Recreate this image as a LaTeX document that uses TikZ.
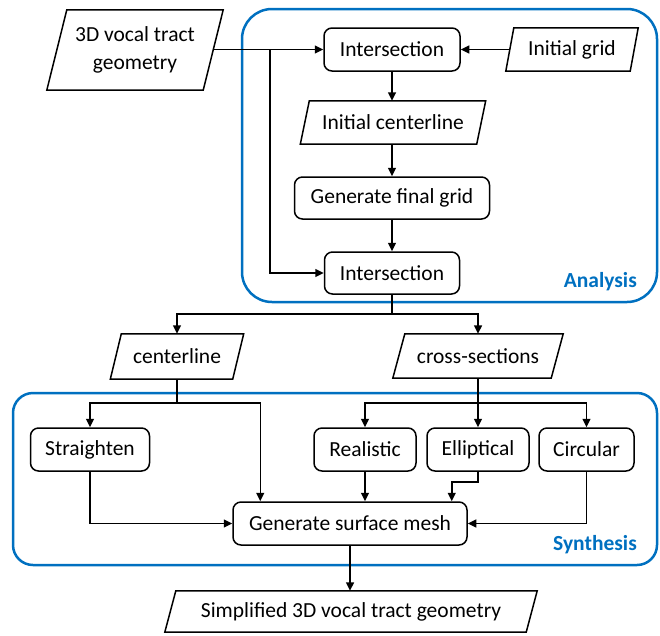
\documentclass[tikz,border=0pt]{standalone}
\usepackage{fontspec}
\setmainfont{Carlito}
\usetikzlibrary{arrows.meta,calc}
\definecolor{groupblue}{HTML}{0070C0}

% outline of a slanted (data) box around a plain node
\newcommand\slantframe[2]{%
  \draw[frame] ($(#1.north west)+(#2,0)$) -- ($(#1.north east)+(#2,0)$)
    -- ($(#1.south east)+(-#2,0)$) -- ($(#1.south west)+(-#2,0)$) -- cycle;}

\tikzset{
  frame/.style={draw=black, line width=1.5pt, line join=miter},
  plain/.style={inner sep=0pt, font=\fontsize{21.5}{28}\selectfont, align=center},
  procbox/.style={plain, draw=black, line width=1.5pt, rounded corners=8pt, minimum height=43pt},
  databox/.style={plain, minimum height=43pt},
  flow/.style={line width=1.5pt, -{Triangle[length=8.5pt,width=8pt]}},
  link/.style={line width=1.5pt},
  group/.style={draw=groupblue, line width=2.5pt},
  grouplabel/.style={anchor=east, inner sep=0pt, text=groupblue,
    font=\fontsize{21.5}{26}\selectfont\bfseries},
}

\begin{document}
\begin{tikzpicture}[x=1pt, y=-1pt]
\useasboundingbox (0,0) rectangle (660,635);

% groups
\draw[group, rounded corners=30pt] (242,9) rectangle (657,302);
\node[grouplabel] (lblA) at (637,282) {Analysis};
\draw[group, rounded corners=20pt] (13,393) rectangle (657,565);
\node[grouplabel] (lblS) at (637,545) {Synthesis};

% analysis stage
\node[databox, minimum width=156pt, minimum height=80pt] (geo) at (135,50) {3D vocal tract\\geometry};
\slantframe{geo}{10}
\node[procbox, minimum width=136pt] (int1) at (392,49.5) {Intersection};
\node[databox, minimum width=124pt] (grid0) at (572,49.5) {Initial grid};
\slantframe{grid0}{4}
\node[databox, minimum width=176pt] (icl) at (393,122.5) {Initial centerline};
\slantframe{icl}{4.5}
\node[procbox, minimum width=195pt, minimum height=42pt] (fgrid) at (392,198) {Generate final grid};
\node[procbox, minimum width=135pt, minimum height=42pt] (int2) at (392,273) {Intersection};

% intermediate data
\node[databox, minimum width=122pt, minimum height=45pt] (cl) at (177,356.5) {centerline};
\slantframe{cl}{5.5}
\node[databox, minimum width=158pt, minimum height=44pt] (cs) at (478,356) {cross-sections};
\slantframe{cs}{6}

% synthesis stage
\node[procbox, minimum width=119pt] (str) at (90,449.5) {Straighten};
\node[procbox, minimum width=102pt] (real) at (365,449.5) {Realistic};
\node[procbox, minimum width=102pt] (ell) at (478,449.5) {Elliptical};
\node[procbox, minimum width=95pt] (circ) at (586.5,449.5) {Circular};
\node[procbox, minimum width=234pt] (mesh) at (350,523.5) {Generate surface mesh};

% result
\node[databox, minimum width=361pt, minimum height=41pt] (out) at (351,611.5) {Simplified 3D vocal tract geometry};
\slantframe{out}{5.5}

% connectors
\coordinate (j1) at (270,49.5);
\coordinate (split1) at (392,314);
\coordinate (split2) at (177,403);
\coordinate (split3) at (478,403);

\draw[flow] (geo.east |- int1.west) -- (int1.west);
\draw[flow] (j1) |- (int2.west);
\draw[flow] (grid0.west) -- (int1.east);
\draw[flow] (int1.south) -- (int1.south |- icl.north);
\draw[flow] (int1.south |- icl.south) -- (fgrid.north);
\draw[flow] (fgrid.south) -- (int2.north);
\draw[link] (int2.south) -- (split1);
\draw[flow] (split1) -| (cl.north);
\draw[flow] (split1) -| (cs.north);

\draw[link] (cl.south) -- (split2);
\draw[flow] (split2) -| (str.north);
\draw[flow] (split2) -| ($(mesh.north west)+(28,0)$);
\draw[link] (cs.south) -- (split3);
\draw[flow] (split3) -| (real.north);
\draw[flow] (split3) -- (ell.north);
\draw[flow] (split3) -| (circ.north);

\draw[flow] (str.south) |- (mesh.west);
\draw[flow] (real.south) -- (real.south |- mesh.north);
\draw[flow] (ell.south) -- ++(0,10) -| ($(mesh.north east)+(-16,0)$);
\draw[flow] (circ.south) |- (mesh.east);
\draw[flow] (mesh.south) -- (mesh.south |- out.north);
\end{tikzpicture}
\end{document}
